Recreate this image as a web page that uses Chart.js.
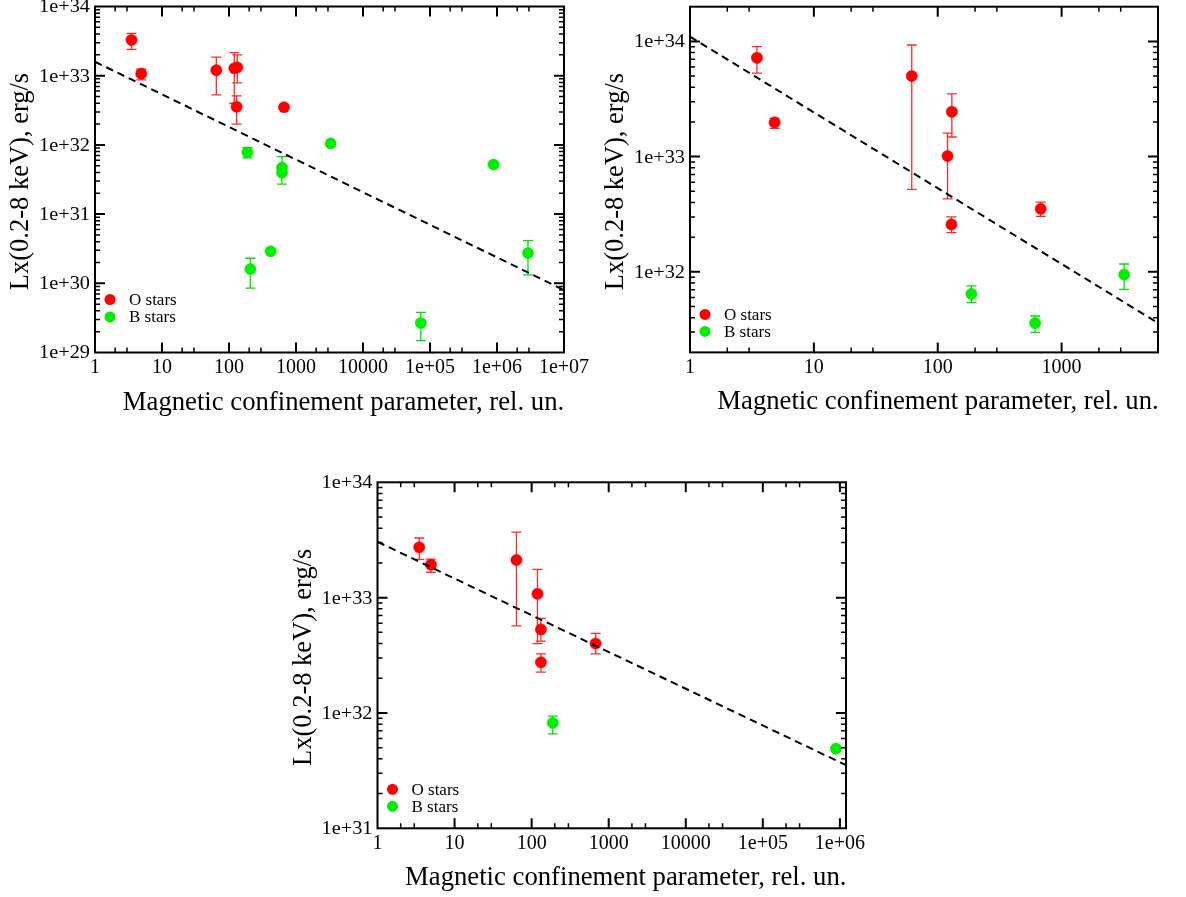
<!DOCTYPE html>
<html>
<head>
<meta charset="utf-8">
<title>Lx vs magnetic confinement parameter</title>
<script src="https://cdn.jsdelivr.net/npm/chart.js@4.4.1/dist/chart.umd.min.js"></script>
<style>
  html, body { margin: 0; padding: 0; background: #fff; }
  #wrap { position: relative; width: 1186px; height: 897px; overflow: hidden; }
  #wrap canvas { position: absolute; left: 0; top: 0; }
</style>
</head>
<body>
<div id="wrap">
  <canvas id="c1" width="1186" height="897"></canvas>
  <canvas id="c2" width="1186" height="897"></canvas>
  <canvas id="c3" width="1186" height="897"></canvas>
</div>
<script>
const FONT = "'Liberation Serif', 'Times New Roman', serif";
const X_TITLE = 'Magnetic confinement parameter, rel. un.';
const Y_TITLE = 'Lx(0.2-8 keV), erg/s';
const RED = '#ff0000';
const GREEN = '#00ee00';

// Panel 1 - all stars
const p1XTicks  = [1, 10, 100, 1000, 1e4, 1e5, 1e6, 1e7];
const p1XLabels = ['1', '10', '100', '1000', '10000', '1e+05', '1e+06', '1e+07'];
const p1YTicks  = [1e29, 1e30, 1e31, 1e32, 1e33, 1e34];
const p1YLabels = ['1e+29', '1e+30', '1e+31', '1e+32', '1e+33', '1e+34'];

const p1OX  = [3.5, 4.9, 64.7, 120, 133, 130, 662];
const p1OY  = [3.28e33, 1.07e33, 1.2e33, 1.28e33, 1.32e33, 3.56e32, 3.5e32];
const p1OHi = [4.1e33, 1.24e33, 1.85e33, 2.15e33, 2.0e33, 5.1e32, null];
const p1OLo = [2.4e33, 0.87e33, 5.3e32, 4.0e32, 7.9e32, 2.0e32, null];

const p1BX  = [188, 618, 618, 3290, 8.9e5, 208, 418, 7.3e4, 2.9e6];
const p1BY  = [7.8e31, 4.7e31, 3.96e31, 1.05e32, 5.2e31, 1.61e30, 2.9e30, 2.67e29, 2.74e30];
const p1BHi = [9.1e31, null, 6.76e31, null, null, 2.3e30, null, 3.8e29, 4.13e30];
const p1BLo = [6.5e31, null, 2.72e31, null, null, 8.5e29, null, 1.48e29, 1.32e30];

const p1FitX = [1, 1e7];
const p1FitY = [1.59e33, 8.0e29];

// Panel 2 - up to a few thousand
const p2XTicks  = [1, 10, 100, 1000];
const p2XLabels = ['1', '10', '100', '1000'];
const p2YTicks  = [1e32, 1e33, 1e34];
const p2YLabels = ['1e+32', '1e+33', '1e+34'];

const p2OX  = [3.47, 4.82, 61.7, 130, 120, 129, 678];
const p2OY  = [7.2e33, 1.98e33, 5.0e33, 2.45e33, 1.01e33, 2.58e32, 3.52e32];
const p2OHi = [9.0e33, 2.15e33, 9.3e33, 3.5e33, 1.6e33, 3.0e32, 4.03e32];
const p2OLo = [5.3e33, 1.76e33, 5.2e32, 1.48e33, 4.3e32, 2.19e32, 3.03e32];

const p2BX  = [187, 611, 3200];
const p2BY  = [6.43e31, 3.59e31, 9.46e31];
const p2BHi = [7.57e31, 4.14e31, 1.17e32];
const p2BLo = [5.4e31, 2.99e31, 7.06e31];

const p2FitX = [1, 6000];
const p2FitY = [1.1e34, 3.6e31];

// Panel 3
const p3XTicks  = [1, 10, 100, 1000, 1e4, 1e5, 1e6];
const p3XLabels = ['1', '10', '100', '1000', '10000', '1e+05', '1e+06'];
const p3YTicks  = [1e31, 1e32, 1e33, 1e34];
const p3YLabels = ['1e+31', '1e+32', '1e+33', '1e+34'];

const p3OX  = [3.48, 4.93, 63.5, 119, 132, 132, 676];
const p3OY  = [2.73e33, 1.93e33, 2.12e33, 1.08e33, 5.3e32, 2.75e32, 4.0e32];
const p3OHi = [3.29e33, 2.16e33, 3.7e33, 1.76e33, 6.6e32, 3.25e32, 4.9e32];
const p3OLo = [2.15e33, 1.66e33, 5.7e32, 4.0e32, 4.2e32, 2.26e32, 3.25e32];

const p3BX  = [188, 8.87e5];
const p3BY  = [8.2e31, 4.9e31];
const p3BHi = [9.4e31, null];
const p3BLo = [6.6e31, null];

const p3FitX = [1, 1.2e6];
const p3FitY = [3.05e33, 3.53e31];

const W = 1186, H = 897;

function pts(xs, ys) {
    return xs.map((x, i) => ({ x: x, y: ys[i] }));
}

// log minor ticks at the given multipliers, strictly inside (min, max)
function minors(min, max, mults) {
    const out = [];
    for (let e = Math.floor(Math.log10(min)) - 1; e <= Math.ceil(Math.log10(max)); e++) {
        mults.forEach(m => {
            const v = m * Math.pow(10, e);
            if (v > min * 1.0001 && v < max * 0.9999) out.push(v);
        });
    }
    return out;
}

const errorBars = {
    id: 'errorBars',
    beforeDatasetsDraw(chart) {
        const ctx = chart.ctx;
        const ys = chart.scales.y;
        ctx.save();
        chart.data.datasets.forEach((ds, di) => {
            if (!ds.errHi) return;
            const meta = chart.getDatasetMeta(di);
            ctx.strokeStyle = ds.barColor;
            ctx.lineWidth = 1.3;
            meta.data.forEach((el, i) => {
                if (ds.errHi[i] == null) return;
                const x = el.x;
                const yh = ys.getPixelForValue(ds.errHi[i]);
                const yl = ys.getPixelForValue(ds.errLo[i]);
                ctx.beginPath();
                ctx.moveTo(x, yh); ctx.lineTo(x, yl);
                ctx.moveTo(x - 5, yh); ctx.lineTo(x + 5, yh);
                ctx.moveTo(x - 5, yl); ctx.lineTo(x + 5, yl);
                ctx.stroke();
            });
        });
        ctx.restore();
    }
};

const frame = {
    id: 'frame',
    afterDraw(chart, args, opts) {
        const ctx = chart.ctx;
        const a = chart.chartArea;
        const xs = chart.scales.x, ys = chart.scales.y;
        const p = opts.panel;
        ctx.save();
        ctx.strokeStyle = '#000';
        ctx.fillStyle = '#000';

        // inward ticks on all four sides
        const tick = (vals, len, lw) => {
            ctx.lineWidth = lw;
            ctx.beginPath();
            vals.x.forEach(v => {
                const px = xs.getPixelForValue(v);
                ctx.moveTo(px, a.bottom); ctx.lineTo(px, a.bottom - len);
                ctx.moveTo(px, a.top); ctx.lineTo(px, a.top + len);
            });
            vals.y.forEach(v => {
                const py = ys.getPixelForValue(v);
                ctx.moveTo(a.left, py); ctx.lineTo(a.left + len, py);
                ctx.moveTo(a.right, py); ctx.lineTo(a.right - len, py);
            });
            ctx.stroke();
        };
        tick({ x: p.xTicks.filter(v => v > xs.min && v < xs.max), y: p.yTicks.filter(v => v > ys.min && v < ys.max) }, 10, 2);
        tick({ x: minors(xs.min, xs.max, [2, 3]), y: minors(ys.min, ys.max, [2, 3, 4, 5, 6, 7, 8, 9]) }, 5, 1.5);

        ctx.lineWidth = 2;
        ctx.strokeRect(a.left, a.top, a.right - a.left, a.bottom - a.top);

        // tick labels
        ctx.font = '20px ' + FONT;
        ctx.textAlign = 'center';
        ctx.textBaseline = 'alphabetic';
        p.xTicks.forEach((v, i) => {
            ctx.fillText(p.xLabels[i], xs.getPixelForValue(v), a.bottom + 20.5);
        });
        ctx.font = '19px ' + FONT;
        ctx.textAlign = 'right';
        ctx.textBaseline = 'middle';
        p.yTicks.forEach((v, i) => {
            ctx.save();
            ctx.translate(a.left - 5, ys.getPixelForValue(v) + 1);
            ctx.scale(1.07, 1);
            ctx.fillText(p.yLabels[i], 0, 0);
            ctx.restore();
        });

        // axis titles
        ctx.font = '26.7px ' + FONT;
        ctx.textAlign = 'center';
        ctx.textBaseline = 'alphabetic';
        ctx.fillText(X_TITLE, (a.left + a.right) / 2 + 14, a.bottom + 57);
        ctx.font = '26.5px ' + FONT;
        ctx.save();
        ctx.translate(a.left - 67, (a.top + a.bottom) / 2 + 2);
        ctx.rotate(-Math.PI / 2);
        ctx.fillText(Y_TITLE, 0, 0);
        ctx.restore();

        // legend
        ctx.font = '17px ' + FONT;
        ctx.textAlign = 'left';
        ctx.textBaseline = 'middle';
        [0, 1].forEach(i => {
            const ds = chart.data.datasets[i];
            const y = a.bottom - p.legend[i];
            ctx.fillStyle = ds.backgroundColor;
            ctx.beginPath();
            ctx.arc(a.left + 15, y, 5.5, 0, Math.PI * 2);
            ctx.fill();
            ctx.fillStyle = '#000';
            ctx.fillText(ds.label, a.left + 34, y + 1);
        });
        ctx.restore();
    }
};

function panel(id, p) {
    new Chart(document.getElementById(id), {
        type: 'scatter',
        data: {
            datasets: [
                {
                    label: 'O stars', data: pts(p.o[0], p.o[1]),
                    errHi: p.o[2], errLo: p.o[3], barColor: '#ff2a2a',
                    backgroundColor: RED, borderColor: RED,
                    pointRadius: 5.6, pointBorderWidth: 0.6, order: 1
                },
                {
                    label: 'B stars', data: pts(p.b[0], p.b[1]),
                    errHi: p.b[2], errLo: p.b[3], barColor: '#00e000',
                    backgroundColor: GREEN, borderColor: GREEN,
                    pointRadius: 5.6, pointBorderWidth: 0.6, order: 2
                },
                {
                    type: 'line', label: 'fit', data: pts(p.fit[0], p.fit[1]),
                    borderColor: '#000', borderWidth: 2, borderDash: [7.5, 5],
                    pointRadius: 0, fill: false, order: 0
                }
            ]
        },
        options: {
            responsive: false,
            animation: false,
            events: [],
            layout: { padding: { left: p.box[0], top: p.box[1], right: W - p.box[2], bottom: H - p.box[3] } },
            scales: {
                x: { type: 'logarithmic', min: p.xRange[0], max: p.xRange[1], display: false },
                y: { type: 'logarithmic', min: p.yRange[0], max: p.yRange[1], display: false }
            },
            plugins: {
                legend: { display: false },
                tooltip: { enabled: false },
                frame: { panel: p }
            }
        },
        plugins: [errorBars, frame]
    });
}

panel('c1', {
    box: [95, 6.5, 564, 352.5],
    xRange: [1, 1e7], yRange: [1e29, 1e34],
    xTicks: p1XTicks, xLabels: p1XLabels, yTicks: p1YTicks, yLabels: p1YLabels,
    o: [p1OX, p1OY, p1OHi, p1OLo], b: [p1BX, p1BY, p1BHi, p1BLo],
    fit: [p1FitX, p1FitY], legend: [53, 35.6]
});

panel('c2', {
    box: [690, 6.7, 1158, 352.4],
    xRange: [1, 6000], yRange: [2e31, 2e34],
    xTicks: p2XTicks, xLabels: p2XLabels, yTicks: p2YTicks, yLabels: p2YLabels,
    o: [p2OX, p2OY, p2OHi, p2OLo], b: [p2BX, p2BY, p2BHi, p2BLo],
    fit: [p2FitX, p2FitY], legend: [38, 21]
});

panel('c3', {
    box: [377.5, 482.3, 846, 828.3],
    xRange: [1, 1.2e6], yRange: [1e31, 1e34],
    xTicks: p3XTicks, xLabels: p3XLabels, yTicks: p3YTicks, yLabels: p3YLabels,
    o: [p3OX, p3OY, p3OHi, p3OLo], b: [p3BX, p3BY, p3BHi, p3BLo],
    fit: [p3FitX, p3FitY], legend: [39, 22]
});
</script>
</body>
</html>
